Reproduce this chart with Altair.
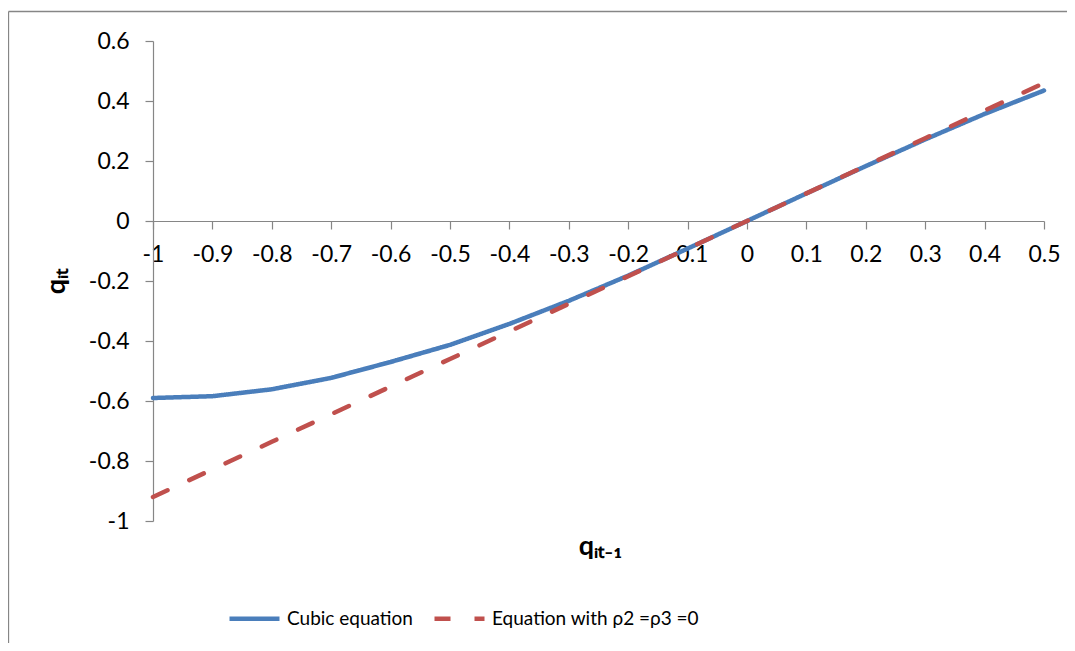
import altair as alt
import pandas as pd

# ---- data ----
x_vals = [-1.0, -0.9, -0.8, -0.7, -0.6, -0.5, -0.4, -0.3, -0.2, -0.1, 0.0, 0.1, 0.2, 0.3, 0.4, 0.5]
cubic = [-0.59, -0.584, -0.561, -0.523, -0.47, -0.413, -0.343, -0.266, -0.182, -0.092,
         0.0, 0.092, 0.183, 0.272, 0.357, 0.435]
linear = [-0.92, -0.828, -0.736, -0.644, -0.552, -0.46, -0.368, -0.276, -0.184, -0.092,
          0.0, 0.092, 0.184, 0.276, 0.368, 0.46]
series_names = ["Cubic equation", "Equation with ρ2 =ρ3 =0"]
x_ticks = [-1, -0.9, -0.8, -0.7, -0.6, -0.5, -0.4, -0.3, -0.2, -0.1, 0, 0.1, 0.2, 0.3, 0.4, 0.5]
y_ticks = [-1, -0.8, -0.6, -0.4, -0.2, 0, 0.2, 0.4, 0.6]

rows = []
for name, ys in zip(series_names, [cubic, linear]):
    for i, (xv, yv) in enumerate(zip(x_vals, ys)):
        rows.append({"x": xv, "y": yv, "series": name, "order": i})
df = pd.DataFrame(rows)

FONT = "Lato"
GRAY = "#868686"

one = pd.DataFrame({"k": [0]})
frame_top = alt.Chart(one).mark_rule(stroke=GRAY, strokeWidth=1.3).encode(
    x=alt.value(-144.5), x2=alt.value(1000), y=alt.value(-29.5)
)
frame_left = alt.Chart(one).mark_rule(stroke=GRAY, strokeWidth=1.3).encode(
    x=alt.value(-144.5), y=alt.value(-29.5), y2=alt.value(700)
)

lines = alt.Chart(df).mark_line(strokeWidth=4.5, strokeCap="round", strokeJoin="round").encode(
    x=alt.X("x:Q",
            scale=alt.Scale(domain=[-1, 0.5], nice=False, zero=False),
            axis=alt.Axis(values=x_ticks, labelExpr="'' + datum.value", offset=-300,
                          title="qᵢₜ₋₁", titleX=447, titleY=333,
                          titleBaseline="alphabetic", titleAlign="center",
                          labelPadding=14, labelFlush=False, labelOverlap=False)),
    y=alt.Y("y:Q",
            scale=alt.Scale(domain=[-1, 0.6], nice=False, zero=False),
            axis=alt.Axis(values=y_ticks, labelExpr="'' + datum.value",
                          title="qᵢₜ", titleAngle=270, titleX=-89, titleY=240,
                          titleBaseline="alphabetic", titleAlign="center",
                          labelPadding=16, labelFlush=False, labelOverlap=False)),
    color=alt.Color("series:N",
                    scale=alt.Scale(domain=series_names, range=["#4A7EBB", "#C0504D"]),
                    legend=alt.Legend(title=None, orient="none", legendX=74, legendY=550,
                                      direction="horizontal", symbolType="stroke",
                                      symbolSize=2500, symbolStrokeWidth=4.5,
                                      labelFont=FONT, labelFontSize=19, labelColor="black",
                                      labelLimit=500, labelOffset=5, columnPadding=12)),
    strokeDash=alt.StrokeDash("series:N",
                              scale=alt.Scale(domain=series_names, range=[[1, 0], [16, 24]]),
                              legend=None),
    order="order:Q",
)

chart = alt.layer(frame_top, frame_left, lines).properties(
    width=891, height=480,
    autosize=alt.AutoSizeParams(type="none"),
    padding={"left": 145, "top": 33, "right": 23, "bottom": 122},
).configure_view(stroke=None).configure_axis(
    grid=False, domainColor=GRAY, tickColor=GRAY, tickSize=8, domainWidth=1.2, tickWidth=1.2,
    labelFont=FONT, labelFontSize=23, labelColor="black",
    titleFont=FONT, titleFontSize=27, titleFontWeight="bold", titleColor="black",
)

chart.save("out.html", embed_options={"renderer": "svg", "actions": False})
